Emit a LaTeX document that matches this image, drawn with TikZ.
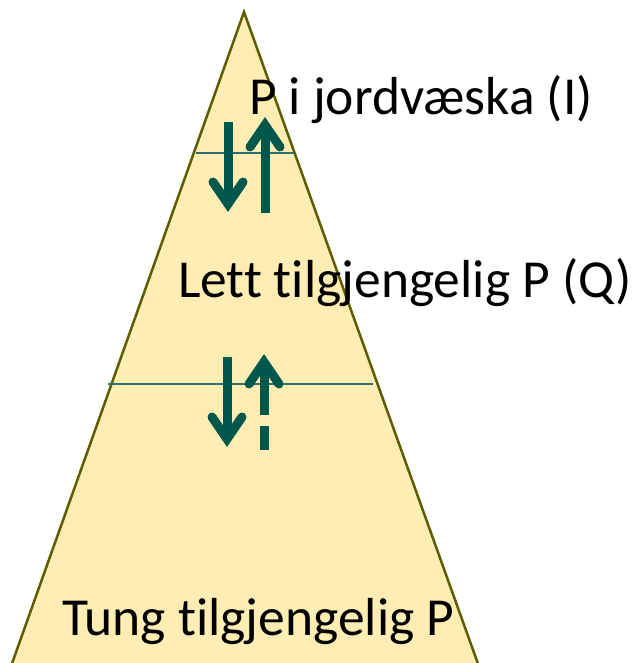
\documentclass[tikz,border=0pt]{standalone}
\usepackage{fontspec}
\setmainfont{Carlito}[Ligatures={NoCommon,NoRequired,NoContextual}]
\usetikzlibrary{calc}
\definecolor{trifill}{HTML}{FFEDB3}
\definecolor{triline}{HTML}{5C5C00}
\definecolor{sepline}{HTML}{2A7070}
\definecolor{arrgreen}{HTML}{00584C}
\begin{document}
\begin{tikzpicture}[x=1pt,y=-1pt,
  lbl/.style={anchor=base west,inner sep=0pt,outer sep=0pt,text=black,font=\fontsize{53.5}{60}\selectfont},
  shaft/.style={draw=arrgreen,line width=9pt,line cap=butt},
  head/.style={draw=arrgreen,line width=9pt,line cap=round,line join=miter},
  sep/.style={draw=sepline,line width=1.5pt}]
\useasboundingbox (0,0) rectangle (633,663);
\begin{scope}
  \clip (0,0) rectangle (633,663);
  \draw[fill=trifill,draw=triline,line width=2.5pt,line join=miter] (244,12) -- (491,700) -- (-1,700) -- cycle;
\end{scope}
% separating lines
\coordinate (s1l) at (196,153);
\coordinate (s1r) at (294,153);
\coordinate (s2l) at (108,384);
\coordinate (s2r) at (373,384);
\draw[sep] (s1l) -- (s1r);
\draw[sep] (s2l) -- (s2r);
% upper pair of arrows
\coordinate (d1s) at (228,122);
\coordinate (d1e) at (228,204);
\draw[shaft] (d1s) -- (d1e);
\draw[head] ($(d1e)+(-15,-22)$) -- (d1e) -- ($(d1e)+(15,-22)$);
\coordinate (u1s) at (265,213);
\coordinate (u1e) at (265,125);
\draw[shaft] (u1s) -- (u1e);
\draw[head] ($(u1e)+(-15,22)$) -- (u1e) -- ($(u1e)+(15,22)$);
% lower pair of arrows
\coordinate (d2s) at (227,357);
\coordinate (d2e) at (227,439);
\draw[shaft] (d2s) -- (d2e);
\draw[head] ($(d2e)+(-15,-22)$) -- (d2e) -- ($(d2e)+(15,-22)$);
\coordinate (u2s) at (264,450);
\coordinate (u2e) at (264,362);
\draw[shaft,dash pattern=on 24pt off 11pt on 60pt] (u2s) -- (u2e);
\draw[head] ($(u2e)+(-15,22)$) -- (u2e) -- ($(u2e)+(15,22)$);
% labels
\node[lbl] (t1) at (249,115) {P i jordvæska (I)};
\node[lbl] (t2) at (178,297) {Lett tilgjengelig P (Q)};
\node[lbl] (t3) at (62,635) {Tung tilgjengelig P};
\end{tikzpicture}
\end{document}
